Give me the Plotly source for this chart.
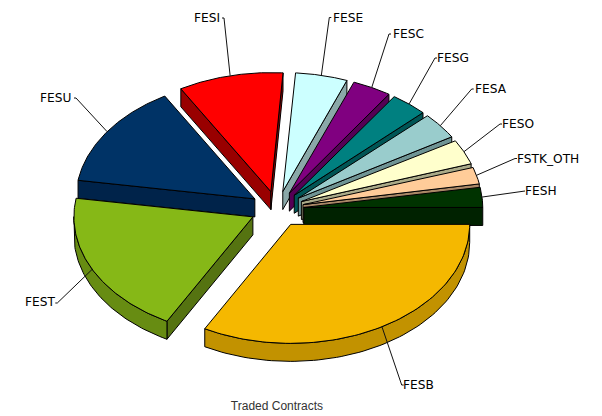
import numpy as np
import plotly.graph_objects as go

# ---- data ----
categories = ["FESB", "FEST", "FESU", "FESI", "FESE", "FESC", "FESG", "FESA", "FESO", "FSTK_OTH", "FESH"]
shares = [32.97, 19.53, 14.11, 9.47, 4.75, 3.56, 3.39, 3.61, 3.47, 2.36, 2.78]

# ---- styles ----
top_colors = ["#F5B800", "#86B817", "#003366", "#FF0000", "#CCFFFF", "#800080", "#008080", "#99CCCC", "#FFFFCC", "#FFCC99", "#003300"]
arc_colors = ["#C29200", "#678C12", "#00234A", "#990000", "#8AA8A8", "#550055", "#005555", "#6F9494", "#AAAA88", "#AA8866", "#002200"]
edge_colors = ["#C29200", "#557311", "#00234A", "#990000", "#8AA8A8", "#550055", "#005555", "#6F9494", "#AAAA88", "#AA8866", "#002200"]

# ---- pie geometry (pixels on the page) ----
CX, CY, RX, RY, DEPTH, EXPLODE = 277.0, 209.0, 179.0, 119.0, 18.0, 0.15

# where each leader line bends
leader_bends = {
    "FESB": (401.7, 385), "FEST": (57.3, 303), "FESU": (76, 98), "FESI": (224, 18),
    "FESE": (329.3, 17.5), "FESC": (389, 34), "FESG": (435, 58), "FESA": (471.7, 89),
    "FESO": (500, 124), "FSTK_OTH": (515, 158.5), "FESH": (523, 191),
}
# fine placement of each label relative to its leader (x, y) in pixels
label_nudges = {
    "FESB": (-3, 0), "FEST": (2, 1), "FESU": (-1, 0), "FESI": (0, 0),
    "FESE": (0, 0), "FESC": (0, 0), "FESG": (-2, 0), "FESA": (-1, 0),
    "FESO": (-2, 0), "FSTK_OTH": (-2, 0), "FESH": (-2, 0),
}
left_side = {"FEST", "FESU", "FESI"}

fractions = np.array(shares) / sum(shares)
ends = np.cumsum(fractions) * 2 * np.pi
starts = ends - fractions * 2 * np.pi
mids = (starts + ends) / 2

fig = go.Figure()


def poly(xs, ys, fill):
    fig.add_trace(go.Scatter(
        x=list(xs) + [xs[0]], y=list(ys) + [ys[0]], mode="lines", fill="toself",
        fillcolor=fill, line=dict(color="#000000", width=1),
        hoverinfo="skip", showlegend=False,
    ))


for i in np.argsort(np.sin(mids)):
    a0, a1, m = starts[i], ends[i], mids[i]
    ax = CX + EXPLODE * RX * np.cos(m)
    ay = CY + EXPLODE * RY * np.sin(m)
    t = np.linspace(a0, a1, 80)
    ex = ax + RX * np.cos(t)
    ey = ay + RY * np.sin(t)
    # radial walls: only those that face the viewer
    if np.cos(a0) < 0:
        x1, y1 = ax + RX * np.cos(a0), ay + RY * np.sin(a0)
        poly([ax, x1, x1, ax], [ay, y1, y1 + DEPTH, ay + DEPTH], edge_colors[i])
    if np.cos(a1) > 0:
        x1, y1 = ax + RX * np.cos(a1), ay + RY * np.sin(a1)
        poly([ax, x1, x1, ax], [ay, y1, y1 + DEPTH, ay + DEPTH], edge_colors[i])
    # outer rim, front half only
    front = np.sin(t) > -0.002
    if front.sum() > 1:
        fx, fy = ex[front], ey[front]
        poly(list(fx) + list(fx[::-1]), list(fy) + list(fy[::-1] + DEPTH), arc_colors[i])
    # top face
    poly([ax] + list(ex), [ay] + list(ey), top_colors[i])

# leader lines and labels
for i, name in enumerate(categories):
    m = mids[i]
    ax = CX + EXPLODE * RX * np.cos(m)
    ay = CY + EXPLODE * RY * np.sin(m)
    sx, sy = ax + RX * np.cos(m), ay + RY * np.sin(m)
    bx, by = leader_bends[name]
    is_left = name in left_side
    tick = -2 if is_left else 2
    fig.add_trace(go.Scatter(
        x=[sx, bx, bx + tick], y=[sy, by, by], mode="lines",
        line=dict(color="#111111", width=1), hoverinfo="skip", showlegend=False,
    ))
    nx, ny = label_nudges[name]
    fig.add_annotation(
        x=bx + tick, y=by, text=name, showarrow=False,
        xanchor="right" if is_left else "left", yanchor="middle",
        xshift=nx, yshift=ny,
        font=dict(family="DejaVu Sans", size=12.2, color="#000000"),
    )

fig.update_layout(
    width=602, height=416, margin=dict(l=0, r=0, t=0, b=0),
    paper_bgcolor="#FFFFFF", plot_bgcolor="#FFFFFF", showlegend=False,
    xaxis=dict(range=[0, 602], visible=False, fixedrange=True),
    yaxis=dict(range=[416, 0], visible=False, fixedrange=True),
    title=dict(
        text="Traded Contracts", x=277 / 602, xanchor="center", y=1 - 406 / 416, yanchor="middle",
        xref="paper", yref="container",
        font=dict(family="Liberation Sans", size=12, color="#333333"),
    ),
)

fig.write_html("out.html", config={"displayModeBar": False},
               post_script="document.body.style.margin='0';")
